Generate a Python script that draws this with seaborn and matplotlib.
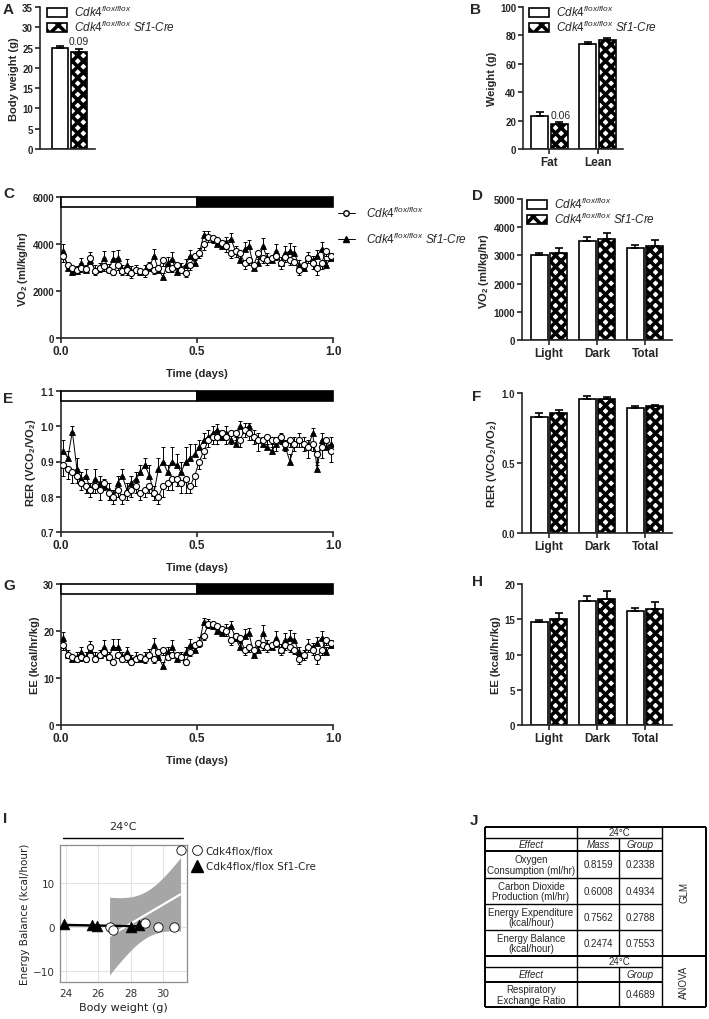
import numpy as np
import pandas as pd
import matplotlib
matplotlib.use('Agg')
import matplotlib.pyplot as plt
from matplotlib.patches import Rectangle, Patch
from matplotlib.lines import Line2D
import seaborn as sns

sns.set_style('ticks')
plt.rcParams['font.family'] = ['Liberation Sans', 'DejaVu Sans']
plt.rcParams['mathtext.fontset'] = 'custom'
plt.rcParams['mathtext.rm'] = 'Liberation Sans'
plt.rcParams['mathtext.it'] = 'Liberation Sans:italic'
plt.rcParams['mathtext.bf'] = 'Liberation Sans:bold'
plt.rcParams['hatch.linewidth'] = 2.6
plt.rcParams['axes.linewidth'] = 1.2

# ---------------- data ----------------
groups = ['Cdk4flox/flox', 'Cdk4flox/flox Sf1-Cre']
lbl_flox = r'$\mathit{Cdk4}^{\mathit{flox/flox}}$'
lbl_cre = lbl_flox + ' Sf1-Cre'

# A body weight
bw_mean = [25.0, 24.0]
bw_err = [0.5, 0.6]
bw_p = '0.09'

# B body composition
comp_cats = ['Fat', 'Lean']
comp_flox = [23.5, 74.0]
comp_flox_err = [2.6, 1.5]
comp_cre = [17.5, 77.0]
comp_cre_err = [1.4, 1.5]
comp_p = '0.06'

# D/F/H summaries
phase_cats = ['Light', 'Dark', 'Total']
vo2_flox = [3000, 3520, 3270]
vo2_flox_err = [80, 150, 110]
vo2_cre = [3080, 3580, 3330]
vo2_cre_err = [180, 220, 200]
rer_flox = [0.83, 0.955, 0.89]
rer_flox_err = [0.03, 0.02, 0.02]
rer_cre = [0.86, 0.955, 0.905]
rer_cre_err = [0.015, 0.015, 0.01]
ee_flox = [14.6, 17.6, 16.1]
ee_flox_err = [0.3, 0.7, 0.5]
ee_cre = [15.0, 17.9, 16.4]
ee_cre_err = [0.9, 1.1, 1.0]

# C/E/G time courses (60 samples over one day)
time = (np.arange(60) + 0.5) / 60
light_dark = [(0.0, 0.5, 'white'), (0.5, 1.0, 'black')]

vo2_t_flox = [3500, 3100, 3000, 2900, 3000, 2950, 3400, 2850, 3000, 3050,
              2900, 2800, 3100, 2850, 2900, 2750, 2900, 2850, 2800, 3050,
              2900, 3000, 3300, 2950, 3000, 3100, 2900, 2750, 3100, 3500,
              3600, 4000, 4300, 4250, 4150, 4050, 3900, 3600, 3700, 3600,
              3200, 3300, 3100, 3600, 3400, 3300, 3400, 3500, 3200, 3450,
              3300, 3250, 2900, 3100, 3400, 3200, 3000, 3200, 3700, 3500]
vo2_t_flox_err = [250, 200, 180, 150, 200, 150, 250, 150, 180, 200,
                  150, 120, 200, 150, 200, 180, 150, 150, 200, 150,
                  180, 200, 250, 150, 200, 180, 150, 150, 200, 200,
                  200, 250, 200, 200, 150, 200, 250, 200, 250, 200,
                  250, 200, 200, 250, 200, 200, 150, 200, 250, 200,
                  200, 150, 200, 250, 200, 250, 300, 250, 200, 200]
vo2_t_cre = [3700, 3000, 2800, 2850, 3200, 2900, 3300, 2900, 3000, 3400,
             2950, 3350, 3400, 2900, 3100, 2850, 2900, 2800, 2900, 3000,
             3500, 2900, 2600, 3200, 3350, 2800, 3000, 3100, 3500, 3200,
             3600, 4400, 4350, 4200, 4000, 3900, 4100, 4200, 3700, 3300,
             3800, 3900, 3000, 3200, 3900, 3400, 3300, 3700, 3200, 3600,
             3700, 3600, 3100, 3000, 3400, 3300, 3500, 3800, 3100, 3400]
vo2_t_cre_err = [300, 200, 150, 200, 200, 200, 350, 200, 200, 300,
                 200, 350, 350, 200, 250, 200, 200, 150, 200, 250,
                 300, 200, 150, 250, 300, 200, 200, 250, 250, 200,
                 250, 150, 200, 150, 200, 200, 200, 250, 200, 250,
                 300, 250, 200, 250, 350, 200, 200, 300, 250, 300,
                 350, 300, 200, 200, 250, 200, 250, 300, 200, 200]

rer_t_flox = [0.89, 0.88, 0.87, 0.86, 0.84, 0.83, 0.82, 0.83, 0.82, 0.84,
              0.81, 0.80, 0.82, 0.80, 0.81, 0.82, 0.83, 0.81, 0.82, 0.83,
              0.81, 0.80, 0.83, 0.84, 0.85, 0.85, 0.84, 0.85, 0.83, 0.86,
              0.90, 0.93, 0.96, 0.97, 0.97, 0.98, 0.97, 0.98, 0.98, 0.96,
              0.99, 0.98, 0.97, 0.96, 0.96, 0.97, 0.96, 0.96, 0.97, 0.95,
              0.96, 0.95, 0.96, 0.95, 0.94, 0.95, 0.92, 0.94, 0.96, 0.93]
rer_t_flox_err = [0.03, 0.03, 0.03, 0.02, 0.02, 0.02, 0.02, 0.02, 0.03, 0.02,
                  0.02, 0.02, 0.02, 0.02, 0.02, 0.02, 0.02, 0.02, 0.02, 0.02,
                  0.02, 0.02, 0.03, 0.02, 0.03, 0.02, 0.03, 0.04, 0.02, 0.03,
                  0.02, 0.02, 0.02, 0.02, 0.02, 0.02, 0.02, 0.03, 0.02, 0.02,
                  0.02, 0.02, 0.02, 0.03, 0.02, 0.02, 0.02, 0.03, 0.02, 0.02,
                  0.02, 0.02, 0.02, 0.02, 0.03, 0.02, 0.03, 0.03, 0.02, 0.03]
rer_t_cre = [0.93, 0.91, 0.985, 0.88, 0.85, 0.86, 0.82, 0.85, 0.84, 0.83,
             0.82, 0.80, 0.84, 0.86, 0.82, 0.84, 0.85, 0.87, 0.89, 0.86,
             0.81, 0.88, 0.90, 0.87, 0.90, 0.89, 0.87, 0.90, 0.91, 0.92,
             0.94, 0.96, 0.97, 0.98, 0.99, 0.97, 0.98, 0.96, 0.95, 1.00,
             0.99, 1.00, 0.97, 0.96, 0.95, 0.94, 0.93, 0.95, 0.96, 0.94,
             0.90, 0.95, 0.96, 0.95, 0.94, 0.98, 0.88, 0.96, 0.94, 0.95]
rer_t_cre_err = [0.03, 0.02, 0.015, 0.03, 0.02, 0.02, 0.02, 0.03, 0.02, 0.02,
                 0.02, 0.02, 0.02, 0.02, 0.02, 0.02, 0.02, 0.02, 0.02, 0.03,
                 0.02, 0.03, 0.04, 0.02, 0.04, 0.03, 0.03, 0.04, 0.04, 0.03,
                 0.02, 0.02, 0.02, 0.02, 0.015, 0.02, 0.02, 0.02, 0.02, 0.015,
                 0.02, 0.01, 0.02, 0.02, 0.02, 0.02, 0.02, 0.02, 0.02, 0.02,
                 0.02, 0.02, 0.02, 0.02, 0.02, 0.015, 0.02, 0.02, 0.02, 0.02]

ee_t_flox = [17.0, 15.0, 14.5, 14.0, 14.5, 14.0, 16.5, 14.0, 15.0, 15.5,
             14.5, 13.5, 15.0, 14.0, 14.5, 13.5, 14.0, 14.5, 14.0, 15.0,
             14.0, 15.5, 16.0, 14.5, 15.0, 15.0, 14.5, 13.5, 15.5, 17.0,
             17.5, 19.0, 21.5, 21.5, 21.0, 20.5, 20.0, 18.0, 19.0, 18.5,
             16.0, 16.5, 16.0, 17.5, 17.0, 16.5, 17.0, 17.5, 16.0, 17.0,
             16.5, 16.0, 14.0, 15.0, 16.5, 16.0, 14.5, 16.0, 18.0, 17.5]
ee_t_flox_err = [1.0, 0.8, 0.8, 0.7, 0.8, 0.7, 1.0, 0.7, 0.8, 0.9,
                 0.7, 0.6, 0.8, 0.7, 1.0, 0.8, 0.7, 0.7, 0.8, 0.7,
                 0.8, 0.9, 1.0, 0.7, 0.8, 0.8, 0.7, 0.8, 0.9, 1.0,
                 1.0, 1.0, 0.8, 0.8, 0.8, 0.9, 1.0, 1.0, 1.2, 1.0,
                 1.0, 1.0, 0.9, 1.0, 1.0, 0.9, 0.8, 1.0, 1.2, 1.0,
                 1.0, 0.8, 1.0, 1.2, 1.0, 1.2, 1.5, 1.2, 1.0, 1.0]
ee_t_cre = [18.5, 15.0, 14.0, 14.5, 15.5, 14.5, 16.0, 14.5, 15.0, 16.5,
            14.5, 16.5, 16.5, 14.5, 15.5, 14.0, 14.5, 14.0, 14.5, 15.0,
            17.0, 14.5, 12.5, 15.5, 16.5, 14.0, 14.5, 15.5, 17.0, 16.0,
            17.5, 22.0, 21.5, 21.0, 20.0, 19.5, 20.5, 21.0, 18.5, 16.5,
            19.0, 19.5, 15.0, 16.0, 19.5, 17.0, 16.5, 18.5, 16.0, 18.0,
            18.5, 18.0, 15.5, 15.0, 17.0, 16.5, 17.5, 18.5, 15.5, 17.0]
ee_t_cre_err = [1.2, 1.0, 0.8, 1.0, 1.0, 1.0, 1.8, 1.0, 1.0, 1.5,
                1.0, 1.8, 1.8, 1.0, 1.2, 1.0, 1.0, 0.8, 1.0, 1.2,
                1.5, 1.0, 0.8, 1.2, 1.5, 1.0, 1.0, 1.2, 1.2, 1.0,
                1.2, 0.8, 1.0, 0.8, 1.0, 1.0, 1.0, 1.2, 1.0, 1.2,
                1.5, 1.2, 1.0, 1.2, 1.8, 1.0, 1.0, 1.5, 1.2, 1.5,
                1.8, 1.5, 1.0, 1.0, 1.2, 1.0, 1.2, 1.5, 1.0, 1.0]

# I energy balance vs body weight
eb_bw_flox = [26.7, 26.9, 28.9, 29.7, 30.7, 31.1]
eb_flox = [0.0, -0.7, 0.8, -0.1, -0.1, 17.4]
eb_bw_cre = [23.85, 25.6, 25.9, 28.05, 28.5]
eb_cre = [0.6, 0.4, 0.1, 0.0, 0.4]

# J statistics table
glm_effects = ['Oxygen\nConsumption (ml/hr)', 'Carbon Dioxide\nProduction (ml/hr)',
               'Energy Expenditure\n(kcal/hour)', 'Energy Balance\n(kcal/hour)']
glm_mass = ['0.8159', '0.6008', '0.7562', '0.2474']
glm_group = ['0.2338', '0.4934', '0.2788', '0.7553']
anova_effects = ['Respiratory\nExchange Ratio']
anova_group = ['0.4689']

# ---------------- figure ----------------
W, H = 709, 1020
fig = plt.figure(figsize=(W / 100, H / 100), dpi=100)


def add_ax(x0, y0, x1, y1):
    return fig.add_axes([x0 / W, 1 - y1 / H, (x1 - x0) / W, (y1 - y0) / H])


def fig_xy(x, y):
    return x / W, 1 - y / H


def prism_axes(ax, yticks, yfmt, ylabel):
    sns.despine(ax=ax)
    ax.tick_params(width=1.2, length=3.5, direction='out', pad=1.5)
    ax.set_ylim(yticks[0], yticks[-1])
    ax.set_yticks(yticks)
    ax.set_yticklabels([yfmt.format(v) for v in yticks], fontweight='bold', fontsize=7)
    ax.set_ylabel(ylabel, fontsize=8, fontweight='bold', labelpad=2)


def bar_panel(ax, cats, flox, flox_err, cre, cre_err):
    n = len(cats)
    df = pd.DataFrame({'cat': cats * 2, 'val': flox + cre,
                       'grp': [groups[0]] * n + [groups[1]] * n})
    sns.barplot(data=df, x='cat', y='val', hue='grp', order=cats, hue_order=groups,
                palette=['white', 'white'], edgecolor='black', linewidth=1.2,
                width=0.8, gap=0.12, errorbar=None, legend=False, ax=ax)
    errs = flox_err + cre_err
    vals = flox + cre
    centers = []
    for k, p in enumerate(ax.patches[:2 * n]):
        if k >= n:
            p.set_hatch('xxx')
        xc = p.get_x() + p.get_width() / 2
        centers.append(xc)
        ax.errorbar(xc, vals[k], yerr=[[0], [errs[k]]], fmt='none', ecolor='black',
                    elinewidth=1.2, capsize=3, capthick=1.2, zorder=5)
    ax.set_xlabel('')
    return centers


def bar_legend(x, y):
    handles = [Patch(facecolor='white', edgecolor='black', lw=1.2),
               Patch(facecolor='white', edgecolor='black', lw=1.2, hatch='xx')]
    fig.legend(handles, [lbl_flox, lbl_cre], loc='upper left', bbox_to_anchor=fig_xy(x, y),
               frameon=False, borderpad=0, borderaxespad=0, handlelength=1.7, handleheight=0.8,
               handletextpad=0.6, labelspacing=0.0, prop={'style': 'italic', 'size': 8.5})


def time_panel(ax, flox, flox_err, cre, cre_err, yticks, yfmt, ylabel):
    flox = np.array(flox)
    cre = np.array(cre)
    ax.errorbar(time, cre, yerr=[np.zeros(len(cre)), cre_err], fmt='none', ecolor='black',
                elinewidth=0.7, capsize=1.6, capthick=0.7, zorder=2)
    sns.lineplot(x=time, y=cre, color='black', lw=0.7, marker='^', markersize=4.6,
                 markerfacecolor='black', markeredgecolor='black', markeredgewidth=0.6,
                 ax=ax, zorder=3)
    ax.errorbar(time, flox, yerr=[flox_err, np.zeros(len(flox))], fmt='none', ecolor='black',
                elinewidth=0.7, capsize=1.6, capthick=0.7, zorder=4)
    sns.lineplot(x=time, y=flox, color='black', lw=0.7, marker='o', markersize=4.4,
                 markerfacecolor='white', markeredgecolor='black', markeredgewidth=0.8,
                 ax=ax, zorder=5)
    prism_axes(ax, yticks, yfmt, ylabel)
    span = yticks[-1] - yticks[0]
    for x0, x1, c in light_dark:
        ax.add_patch(Rectangle((x0, yticks[-1] - 0.07 * span), x1 - x0, 0.07 * span,
                               facecolor=c, edgecolor='black', lw=1.2, clip_on=False, zorder=6))
    ax.set_xlim(0, 1.0)
    ax.set_xticks([0, 0.5, 1.0])
    ax.set_xticklabels(['0.0', '0.5', '1.0'], fontweight='bold', fontsize=8.5)
    ax.set_xlabel('Time (days)', fontsize=8, fontweight='bold', labelpad=8)


# A
axA = add_ax(40, 8, 95, 150)
cA = bar_panel(axA, ['BW'], [bw_mean[0]], [bw_err[0]], [bw_mean[1]], [bw_err[1]])
prism_axes(axA, [0, 5, 10, 15, 20, 25, 30, 35], '{:d}', 'Body weight (g)')
axA.set_xlim(-0.62, 0.54)
axA.set_xticks([])
axA.text(cA[1], bw_mean[1] + bw_err[1] + 0.8, bw_p, ha='center', va='bottom', fontsize=7.5)
bar_legend(47, 5)

# B
axB = add_ax(523, 8, 623, 150)
cB = bar_panel(axB, comp_cats, comp_flox, comp_flox_err, comp_cre, comp_cre_err)
prism_axes(axB, [0, 20, 40, 60, 80, 100], '{:d}', 'Weight (g)')
axB.set_xlim(-0.55, 1.53)
axB.set_xticks(range(len(comp_cats)))
axB.set_xticklabels(comp_cats, fontweight='bold', fontsize=8.5)
axB.text(cB[2] + 0.03, comp_cre[0] + comp_cre_err[0] + 1.5, comp_p, ha='center', va='bottom', fontsize=7.5)
bar_legend(529, 5)

# C
axC = add_ax(61, 198, 333, 339)
time_panel(axC, vo2_t_flox, vo2_t_flox_err, vo2_t_cre, vo2_t_cre_err,
           [0, 2000, 4000, 6000], '{:d}', r'VO$_\mathbf{2}$ (ml/kg/hr)')
hC = [Line2D([], [], color='black', lw=0.7, marker='o', ms=4, mfc='white', mec='black'),
      Line2D([], [], color='black', lw=0.7, marker='^', ms=4.2, mfc='black', mec='black')]
fig.legend(hC, [lbl_flox, lbl_cre], loc='upper left', bbox_to_anchor=fig_xy(338, 206),
           frameon=False, borderpad=0, borderaxespad=0, handlelength=1.4, handletextpad=1.0,
           labelspacing=0.9, prop={'style': 'italic', 'size': 8.5})

# D
axD = add_ax(522, 200, 672, 341)
bar_panel(axD, phase_cats, vo2_flox, vo2_flox_err, vo2_cre, vo2_cre_err)
prism_axes(axD, [0, 1000, 2000, 3000, 4000, 5000], '{:d}', r'VO$_\mathbf{2}$ (ml/kg/hr)')
axD.set_xlim(-0.56, 2.56)
axD.set_xticks(range(3))
axD.set_xticklabels(phase_cats, fontweight='bold', fontsize=8.5)
bar_legend(527, 197)

# E
axE = add_ax(61, 392, 333, 533)
time_panel(axE, rer_t_flox, rer_t_flox_err, rer_t_cre, rer_t_cre_err,
           [0.7, 0.8, 0.9, 1.0, 1.1], '{:.1f}', r'RER (VCO$_\mathbf{2}$/VO$_\mathbf{2}$)')

# F
axF = add_ax(522, 394, 672, 534)
bar_panel(axF, phase_cats, rer_flox, rer_flox_err, rer_cre, rer_cre_err)
prism_axes(axF, [0.0, 0.5, 1.0], '{:.1f}', r'RER (VCO$_\mathbf{2}$/VO$_\mathbf{2}$)')
axF.set_xlim(-0.56, 2.56)
axF.set_xticks(range(3))
axF.set_xticklabels(phase_cats, fontweight='bold', fontsize=8.5)

# G
axG = add_ax(61, 585, 333, 726)
time_panel(axG, ee_t_flox, ee_t_flox_err, ee_t_cre, ee_t_cre_err,
           [0, 10, 20, 30], '{:d}', 'EE (kcal/hr/kg)')

# H
axH = add_ax(522, 585, 672, 726)
bar_panel(axH, phase_cats, ee_flox, ee_flox_err, ee_cre, ee_cre_err)
prism_axes(axH, [0, 5, 10, 15, 20], '{:d}', 'EE (kcal/hr/kg)')
axH.set_xlim(-0.56, 2.56)
axH.set_xticks(range(3))
axH.set_xticklabels(phase_cats, fontweight='bold', fontsize=8.5)

# I
vfont = 'DejaVu Sans'
axI = add_ax(60, 846, 187, 983)


def fit_band(x, y, grid):
    x = np.asarray(x)
    y = np.asarray(y)
    slope, icpt = np.polyfit(x, y, 1)
    resid = y - (slope * x + icpt)
    s = np.sqrt(np.sum(resid ** 2) / (len(x) - 2))
    se = s * np.sqrt(1 / len(x) + (grid - x.mean()) ** 2 / np.sum((x - x.mean()) ** 2))
    fit = slope * grid + icpt
    return fit, fit - 1.96 * se, fit + 1.96 * se


for bw, eb, lc in [(eb_bw_flox, eb_flox, 'white'), (eb_bw_cre, eb_cre, 'black')]:
    grid = np.linspace(min(bw), max(bw), 50)
    fit, lo, hi = fit_band(bw, eb, grid)
    axI.fill_between(grid, lo, hi, color='#a6a6a6', lw=0, zorder=1)
    sns.lineplot(x=grid, y=fit, color=lc, lw=1.6, ax=axI, zorder=2)
sns.scatterplot(x=eb_bw_cre, y=eb_cre, marker='^', s=60, color='black', edgecolor='black',
                linewidth=0.5, ax=axI, zorder=3)
sns.scatterplot(x=eb_bw_flox, y=eb_flox, marker='o', s=45, facecolor='white', edgecolor='black',
                linewidth=0.6, ax=axI, zorder=4)
axI.set_xlim(23.63, 31.5)
axI.set_ylim(-12.5, 18.6)
axI.set_xticks([24, 26, 28, 30])
axI.set_yticks([-10, 0, 10])
axI.grid(True, color='#e3e3e3', lw=0.8, zorder=0)
axI.set_axisbelow(True)
for sp in axI.spines.values():
    sp.set_color('#8c8c8c')
    sp.set_linewidth(0.9)
axI.tick_params(length=0, labelsize=7.5, labelcolor='#333333', pad=4)
for lab in axI.get_xticklabels() + axI.get_yticklabels():
    lab.set_family(vfont)
axI.set_xlabel('Body weight (g)', fontsize=8, family=vfont, color='#222222', labelpad=3)
axI.set_ylabel('Energy Balance (kcal/hour)', fontsize=7.5, family=vfont, color='#222222', labelpad=2)
fig.add_artist(Line2D([63 / W, 183 / W], [1 - 839 / H] * 2, color='black', lw=1.0))
fig.text(123 / W, 1 - 832 / H, '24\u00b0C', ha='center', va='bottom', fontsize=8, family=vfont)
hI = [Line2D([], [], ls='none', marker='o', ms=7, mfc='white', mec='black', mew=0.6),
      Line2D([], [], ls='none', marker='^', ms=8, mfc='black', mec='black')]
fig.legend(hI, groups, loc='upper left', bbox_to_anchor=fig_xy(192, 847), frameon=False,
           borderpad=0, borderaxespad=0, handlelength=1.0, handletextpad=0.3, labelspacing=0.5,
           prop={'family': vfont, 'size': 7.5})

# J table
axJ = fig.add_axes([0, 0, 1, 1])
axJ.set_xlim(0, W)
axJ.set_ylim(H, 0)
axJ.axis('off')
c0, c1, c2, c3, c4 = 485, 577, 619, 662, 706
r0, r1, r2 = 828, 839, 852
glm_rows = [852, 879, 905, 931, 957]
r6, r7, r8, r9 = 957, 968, 983, 1008
lw_t = 1.0
axJ.hlines([r0, r9], c0, c4, color='black', lw=1.4)
axJ.hlines(r6, c0, c4, color='black', lw=1.4)
axJ.hlines([r1], c0, c3, color='black', lw=lw_t)
axJ.hlines([r2, r8], c0, c3, color='black', lw=1.4)
axJ.hlines(glm_rows[1:-1] + [r7], c0, c3, color='black', lw=lw_t)
axJ.vlines([c0, c4], r0, r9, color='black', lw=1.4)
axJ.vlines([c1, c3], r0, r9, color='black', lw=lw_t)
axJ.vlines(c2, r1, r6, color='black', lw=lw_t)
axJ.vlines(c2, r7, r9, color='black', lw=lw_t)
fs = 7
axJ.text((c1 + c3) / 2, (r0 + r1) / 2, '24\u00b0C', ha='center', va='center', fontsize=fs)
axJ.text((c0 + c1) / 2, (r1 + r2) / 2, 'Effect', ha='center', va='center', fontsize=fs, style='italic')
axJ.text((c1 + c2) / 2, (r1 + r2) / 2, 'Mass', ha='center', va='center', fontsize=fs, style='italic')
axJ.text((c2 + c3) / 2, (r1 + r2) / 2, 'Group', ha='center', va='center', fontsize=fs, style='italic')
for k in range(len(glm_effects)):
    ym = (glm_rows[k] + glm_rows[k + 1]) / 2
    axJ.text((c0 + c1) / 2, ym, glm_effects[k], ha='center', va='center', fontsize=fs, linespacing=1.1)
    axJ.text((c1 + c2) / 2, ym, glm_mass[k], ha='center', va='center', fontsize=fs)
    axJ.text((c2 + c3) / 2, ym, glm_group[k], ha='center', va='center', fontsize=fs)
axJ.text((c3 + c4) / 2, (r0 + r6) / 2, 'GLM', ha='center', va='center', fontsize=fs, rotation=90)
axJ.text((c1 + c3) / 2, (r6 + r7) / 2, '24\u00b0C', ha='center', va='center', fontsize=fs)
axJ.text((c0 + c1) / 2, (r7 + r8) / 2, 'Effect', ha='center', va='center', fontsize=fs, style='italic')
axJ.text((c2 + c3) / 2, (r7 + r8) / 2, 'Group', ha='center', va='center', fontsize=fs, style='italic')
axJ.text((c0 + c1) / 2, (r8 + r9) / 2, anova_effects[0], ha='center', va='center', fontsize=fs, linespacing=1.1)
axJ.text((c2 + c3) / 2, (r8 + r9) / 2, anova_group[0], ha='center', va='center', fontsize=fs)
axJ.text((c3 + c4) / 2, (r6 + r9) / 2, 'ANOVA', ha='center', va='center', fontsize=fs, rotation=90)

# panel letters
letters = {'A': (3, 3), 'B': (470, 3), 'C': (3, 187), 'D': (472, 189), 'E': (3, 392),
           'F': (472, 390), 'G': (3, 579), 'H': (472, 575), 'I': (3, 812), 'J': (470, 814)}
for k, (x, y) in letters.items():
    fig.text(x / W, 1 - y / H, k, fontsize=11, fontweight='bold', va='top', ha='left')

fig.savefig('out.png', dpi=100)
